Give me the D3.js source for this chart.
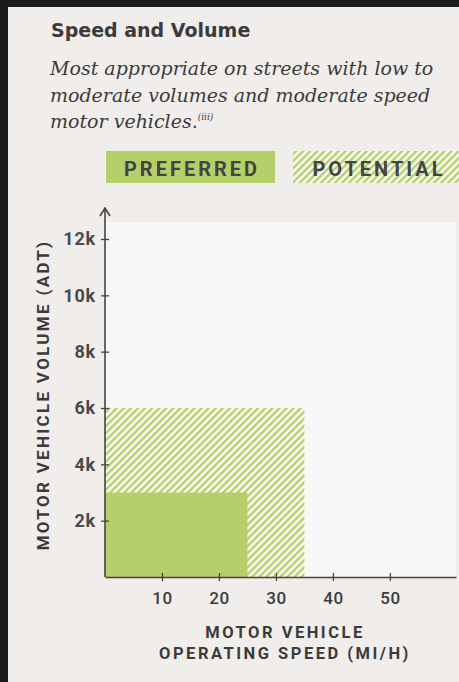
<!DOCTYPE html>
<html>
<head>
<meta charset="utf-8">
<script src="https://cdn.jsdelivr.net/npm/d3@7"></script>
<style>
  body { margin: 0; background: #1b1b1b; overflow: hidden; }
  svg { display: block; }
</style>
</head>
<body>
<script>
// chart data
var categories = ["PREFERRED", "POTENTIAL"];
var maxSpeed = [25, 35];        // mi/h
var maxVolume = [3000, 6000];   // ADT
var xTicks = [10, 20, 30, 40, 50];
var yTicks = [2000, 4000, 6000, 8000, 10000, 12000];
var yTickLabels = ["2k", "4k", "6k", "8k", "10k", "12k"];

var W = 459, H = 682;
var green = "#b5cf6b", ink = "#3b3b3b", axisInk = "#444";

var svg = d3.select("body").append("svg")
  .attr("width", W)
  .attr("height", H);

var defs = svg.append("defs");
var pat = defs.append("pattern")
  .attr("id", "hatch")
  .attr("patternUnits", "userSpaceOnUse")
  .attr("width", 5)
  .attr("height", 5)
  .attr("patternTransform", "rotate(45)");
pat.append("rect").attr("width", 5).attr("height", 5).attr("fill", "#fbfbf6");
pat.append("rect").attr("width", 2.4).attr("height", 5).attr("fill", green);

// dark frame + panel
svg.append("rect").attr("x", 8).attr("y", 7).attr("width", W - 8).attr("height", H - 7)
  .attr("fill", "#f0edea");

var x = d3.scaleLinear().domain([0, 61.6]).range([105, 456]);
var y = d3.scaleLinear().domain([0, 12000]).range([577, 239]);

// title + subtitle
svg.append("text")
  .attr("x", 51).attr("y", 37)
  .style("font-family", "'DejaVu Sans', sans-serif")
  .style("font-weight", 700)
  .style("font-size", "19px")
  .attr("fill", ink)
  .text("Speed and Volume");

var sub = ["Most appropriate on streets with low to",
           "moderate volumes and moderate speed",
           "motor vehicles."];
var subText = svg.append("text")
  .style("font-family", "'DejaVu Serif', serif")
  .style("font-style", "italic")
  .style("font-size", "19px")
  .attr("fill", ink);
sub.forEach(function(s, i){
  subText.append("tspan").attr("x", 50).attr("y", 75 + i * 26.5).text(s);
});
subText.append("tspan")
  .attr("dy", -8)
  .style("font-size", "9px")
  .text("(iii)");

// legend
var legend = svg.append("g");
categories.forEach(function(c, i){
  var lx = 106 + i * 187;
  legend.append("rect")
    .attr("x", lx).attr("y", 151)
    .attr("width", 169).attr("height", 32)
    .attr("fill", i === 0 ? green : "url(#hatch)");
  legend.append("text")
    .attr("x", lx + 86).attr("y", 176)
    .attr("text-anchor", "middle")
    .style("font-family", "Roboto, sans-serif")
    .style("font-weight", 700)
    .style("font-size", "20px")
    .style("letter-spacing", "3px")
    .attr("fill", "#444")
    .text(c);
});

// plot background
svg.append("rect")
  .attr("x", x(0)).attr("y", 222)
  .attr("width", x(61.6) - x(0)).attr("height", y(0) - 222)
  .attr("fill", "#f7f7f7");

// zones: potential first, preferred on top
var zones = categories.map(function(c, i){
  return {name: c, speed: maxSpeed[i], volume: maxVolume[i]};
}).reverse();

svg.selectAll(".zone")
  .data(zones)
  .enter().append("rect")
  .attr("class", "zone")
  .attr("x", x(0))
  .attr("y", function(d){ return y(d.volume); })
  .attr("width", function(d){ return x(d.speed) - x(0); })
  .attr("height", function(d){ return y(0) - y(d.volume); })
  .attr("fill", function(d){ return d.name === "PREFERRED" ? green : "url(#hatch)"; });

// axes
var xAxis = svg.append("g")
  .attr("transform", "translate(0," + y(0) + ")")
  .call(d3.axisBottom(x).tickValues(xTicks).tickSize(0).tickPadding(15));
xAxis.select(".domain").attr("stroke", axisInk).attr("stroke-width", 1.6);
xAxis.selectAll(".tick line").attr("y1", -4).attr("y2", 4)
  .attr("stroke", axisInk).attr("stroke-width", 1.3);
xAxis.selectAll(".tick text")
  .style("font-family", "Roboto, sans-serif")
  .style("font-size", "17px")
  .style("font-weight", 500)
  .style("letter-spacing", "0.5px")
  .attr("fill", ink);

var yAxis = svg.append("g")
  .attr("transform", "translate(" + x(0) + ",0)")
  .call(d3.axisLeft(y).tickValues(yTicks)
    .tickFormat(function(d, i){ return yTickLabels[i]; })
    .tickSize(0).tickPadding(9));
yAxis.select(".domain").remove();
yAxis.append("line")
  .attr("x1", 0).attr("x2", 0)
  .attr("y1", 209).attr("y2", y(0))
  .attr("stroke", axisInk).attr("stroke-width", 1.6);
yAxis.append("path")
  .attr("d", "M-5,216 L0,208 L5,216")
  .attr("fill", "none")
  .attr("stroke", axisInk)
  .attr("stroke-width", 1.6);
yAxis.selectAll(".tick line").attr("x1", -4).attr("x2", 4)
  .attr("stroke", axisInk).attr("stroke-width", 1.3);
yAxis.selectAll(".tick text")
  .style("font-family", "Roboto, sans-serif")
  .style("font-size", "18px")
  .style("font-weight", 700)
  .style("letter-spacing", "0.8px")
  .attr("fill", "#4a4a4a");

// axis titles
svg.append("text")
  .attr("transform", "translate(49,395) rotate(-90)")
  .attr("text-anchor", "middle")
  .style("font-family", "Roboto, sans-serif")
  .style("font-weight", 700)
  .style("font-size", "17px")
  .style("letter-spacing", "2.3px")
  .attr("fill", ink)
  .text("MOTOR VEHICLE VOLUME (ADT)");

var xt = svg.append("text")
  .attr("text-anchor", "middle")
  .style("font-family", "Roboto, sans-serif")
  .style("font-weight", 700)
  .style("font-size", "16.5px")
  .style("letter-spacing", "2.5px")
  .attr("fill", ink);
xt.append("tspan").attr("x", 285).attr("y", 638).text("MOTOR VEHICLE");
xt.append("tspan").attr("x", 285).attr("y", 659).text("OPERATING SPEED (MI/H)");
</script>
</body>
</html>
